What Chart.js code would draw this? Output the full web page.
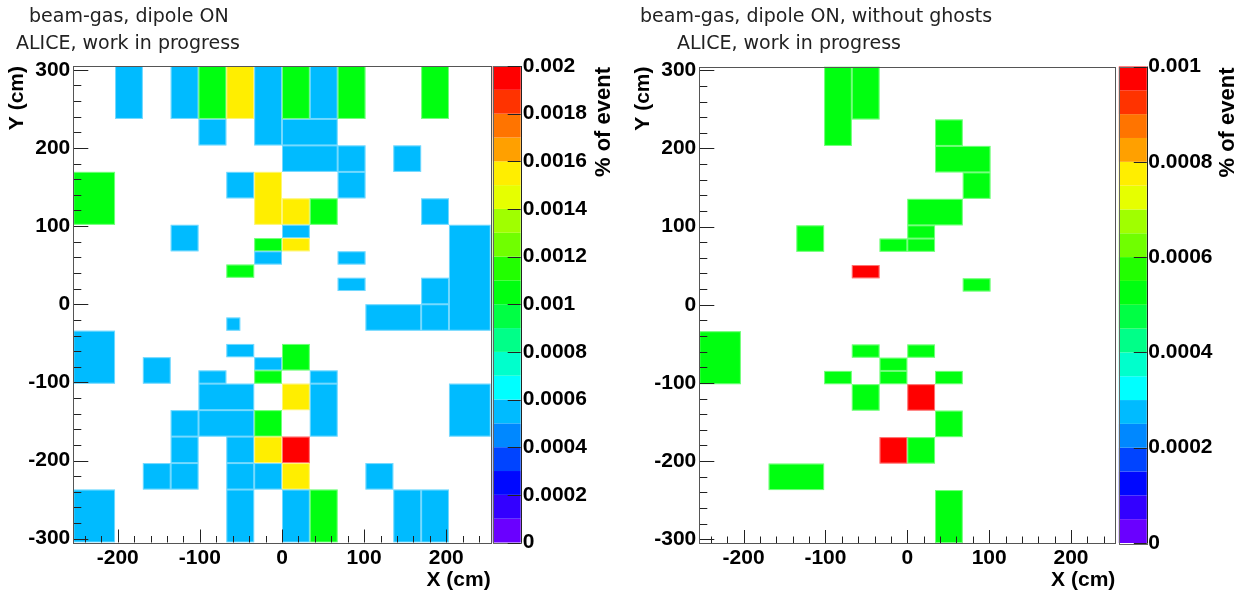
<!DOCTYPE html>
<html>
<head>
<meta charset="utf-8">
<script src="https://cdn.jsdelivr.net/npm/chart.js@4.4.1/dist/chart.umd.min.js"></script>
<style>
  html, body { margin: 0; padding: 0; background: #fff; width: 1242px; height: 596px; overflow: hidden; }
  canvas { position: absolute; top: 0; display: block; }
</style>
</head>
<body>
<canvas id="left" width="621" height="596" style="left:0px"></canvas>
<canvas id="right" width="621" height="596" style="left:621px"></canvas>
<script>
// ---------------- DATA ----------------
const BIN_CM = 16.94;                 // histogram bin width (cm)
const X_BINS = [-15, 15];             // x axis range in bins
const Y_BINS = [-18, 18];             // y axis range in bins

const X_LABELS = [-200, -100, 0, 100, 200];
const Y_LABELS = [-300, -200, -100, 0, 100, 200, 300];
const MINOR_STEP = 20;

// Left panel: beam-gas, dipole ON (cell edges in bin units, value in % of event)
const L_X0 = [-12,-8,-6,-4,-2, 0, 2, 0, 4,10,-6, 0, 4, 8,-15,-4,-2, 4, 0, 2,10,-8, 0,-2, 0,-2, 4,-4, 4,10,12, 6,10,-4,-15,-4, 0,-2,-10,-6,-2, 2,-6, 0, 2,12,-8,-6,-2,-8,-4,-2, 0,-10,-8,-4,-2, 0, 6,-15,-4, 0, 2, 8,10];
const L_X1 = [-10,-6,-4,-2, 0, 2, 4, 4, 6,12,-4, 4, 6,10,-12,-2, 0, 6, 2, 4,12,-6, 2, 0, 2, 0, 6,-2, 6,12,15,10,12,-3,-12,-2, 2, 0, -8,-4, 0, 4,-2, 2, 4,15,-6,-2, 0,-6,-2, 0, 2, -8,-6,-2, 0, 2, 8,-12,-2, 2, 4,10,12];
const L_Y0 = [14,14,14,14,12,14,14,12,14,14,12,10,10,10, 6, 8, 6, 8, 6, 6, 6, 4, 5, 4, 4, 3, 3, 2, 1, 0,-2,-2,-2,-2, -6,-4,-5,-5, -6,-6,-6,-6,-8,-8,-10,-10,-10,-10,-10,-12,-12,-12,-12,-14,-14,-14,-14,-14,-14,-18,-18,-18,-18,-18,-18];
const L_Y1 = [18,18,18,18,18,18,18,14,18,18,14,12,12,12,10,10,10,10, 8, 8, 8, 6, 6, 5, 5, 4, 4, 3, 2, 2, 6, 0, 0,-1, -2,-3,-3,-4, -4,-5,-5,-5,-6,-6, -6, -6, -8, -8, -8,-10,-10,-10,-10,-12,-12,-12,-12,-12,-12,-14,-14,-14,-14,-14,-14];
const L_VAL = [
  0.00053,0.00053,0.00105,0.00158,0.00053,0.00105,0.00053,0.00053,0.00105,0.00105,
  0.00053,0.00053,0.00053,0.00053,0.00105,0.00053,0.00158,0.00053,0.00158,0.00105,
  0.00053,0.00053,0.00053,0.00105,0.00158,0.00053,0.00053,0.00105,0.00053,0.00053,
  0.00053,0.00053,0.00053,0.00053,0.00053,0.00053,0.00105,0.00053,0.00053,0.00053,
  0.00105,0.00053,0.00053,0.00158,0.00053,0.00053,0.00053,0.00053,0.00105,0.00053,
  0.00053,0.00158,0.0021, 0.00053,0.00053,0.00053,0.00053,0.00158,0.00053,0.00053,
  0.00053,0.00053,0.00105,0.00053,0.00053];
const L_CB_TICKS = [0, 0.0002, 0.0004, 0.0006, 0.0008, 0.001, 0.0012, 0.0014, 0.0016, 0.0018, 0.002];
const L_MAX = 0.002;
const L_TITLE = ['beam-gas, dipole ON', 'ALICE, work in progress'];

// Right panel: beam-gas, dipole ON, without ghosts
const R_X0 = [-6,-4, 2, 2, 4, 0, 0,-8,-2, 0,-4, 4,-15,-4, 0,-2,-6,-2, 2,-4, 0,  2, -2,  0,-10,  2];
const R_X1 = [-4,-2, 4, 6, 6, 4, 2,-6, 0, 2,-2, 6,-12,-2, 2, 0,-4, 0, 4,-2, 2,  4,  0,  2, -6,  4];
const R_Y0 = [12,14,12,10, 8, 6, 5, 4, 4, 4, 2, 1, -6,-4,-4,-5,-6,-6,-6,-8,-8,-10,-12,-12,-14,-18];
const R_Y1 = [18,18,14,12,10, 8, 6, 6, 5, 5, 3, 2, -2,-3,-3,-4,-5,-5,-5,-6,-6, -8,-10,-10,-12,-14];
const R_VAL = [
  0.00053,0.00053,0.00053,0.00053,0.00053,0.00053,0.00053,0.00053,0.00053,0.00053,
  0.00105,0.00053,0.00053,0.00053,0.00053,0.00053,0.00053,0.00053,0.00053,0.00053,
  0.00105,0.00053,0.00105,0.00053,0.00053,0.00053];
const R_CB_TICKS = [0, 0.0002, 0.0004, 0.0006, 0.0008, 0.001];
const R_MAX = 0.001;
const R_TITLE = ['beam-gas, dipole ON, without ghosts', 'ALICE, work in progress'];

// ---------------- STYLE ----------------
const PALETTE = ['#6a00ff','#3300ff','#0008ff','#0044ff','#0088ff','#00bbff','#00ffff','#00ffcc','#00ff88','#00ff44',
                 '#00ff10','#22ff00','#70ff00','#a0ff00','#e6ff00','#ffee00','#ffa000','#ff7400','#ff3300','#ff0000'];
const FAMILY = "'Liberation Sans', Arial, Helvetica, sans-serif";
const BOLD = { family: FAMILY, size: 21, weight: 'bold' };

function levelColor(v, vmax) {
  const k = Math.max(0, Math.min(PALETTE.length - 1, Math.floor(v / vmax * PALETTE.length)));
  return PALETTE[k];
}

const histPlugin = {
  id: 'hist2d',
  beforeDatasetsDraw(chart, args, o) {
    const { ctx, chartArea: a, scales: { x, y } } = chart;
    ctx.save();
    ctx.beginPath();
    ctx.rect(a.left, a.top, a.right - a.left, a.bottom - a.top);
    ctx.clip();
    ctx.lineWidth = 1;
    ctx.strokeStyle = 'rgba(255,255,255,0.45)';
    for (const c of chart.data.datasets[0].data) {
      const xa = x.getPixelForValue(c.x0), xb = x.getPixelForValue(c.x1);
      const ya = y.getPixelForValue(c.y1), yb = y.getPixelForValue(c.y0);
      ctx.fillStyle = levelColor(c.v, o.vmax);
      ctx.fillRect(xa, ya, xb - xa, yb - ya);
      ctx.strokeRect(xa + 0.5, ya + 0.5, xb - xa - 1, yb - ya - 1);
    }
    ctx.restore();
  },
  afterDraw(chart, args, o) {
    const { ctx, chartArea: a, scales: { x, y, cb } } = chart;
    const L = o.layout;
    ctx.save();
    // ticks inside the frame
    ctx.strokeStyle = '#222';
    ctx.lineWidth = 1;
    ctx.beginPath();
    for (const t of x.ticks) {
      const px = Math.round(x.getPixelForValue(t.value)) + 0.5;
      const len = X_LABELS.includes(t.value) ? 13 : 6.5;
      ctx.moveTo(px, a.bottom);
      ctx.lineTo(px, a.bottom - len);
    }
    for (const t of y.ticks) {
      const py = Math.round(y.getPixelForValue(t.value)) + 0.5;
      const len = Y_LABELS.includes(t.value) ? 15 : 8;
      ctx.moveTo(a.left, py);
      ctx.lineTo(a.left + len, py);
    }
    ctx.stroke();
    // frame
    ctx.strokeStyle = '#555';
    ctx.strokeRect(Math.round(a.left) + 0.5, Math.round(a.top) + 0.5,
                   Math.round(a.right) - Math.round(a.left), Math.round(a.bottom) - Math.round(a.top));
    // colour bar
    const bx0 = a.right + L.cbGap, bx1 = bx0 + L.cbWidth;
    const n = PALETTE.length;
    for (let k = 0; k < n; k++) {
      const yt = cb.getPixelForValue((k + 1) * o.vmax / n);
      const ybm = cb.getPixelForValue(k * o.vmax / n);
      ctx.fillStyle = PALETTE[k];
      ctx.fillRect(bx0, yt, bx1 - bx0, ybm - yt);
    }
    ctx.strokeStyle = '#666';
    ctx.strokeRect(Math.round(bx0) + 0.5, Math.round(a.top) + 0.5, Math.round(bx1 - bx0), Math.round(a.bottom - a.top));
    ctx.strokeStyle = '#222';
    ctx.beginPath();
    ctx.moveTo(Math.round(bx1) + 0.5, a.top); ctx.lineTo(Math.round(bx1) + 0.5, a.bottom);
    for (const t of cb.ticks) {
      const py = Math.round(cb.getPixelForValue(t.value)) + 0.5;
      ctx.moveTo(bx1, py); ctx.lineTo(bx1 - 13, py);
    }
    ctx.stroke();
    // colour bar title
    ctx.save();
    ctx.translate(a.right + L.cbTitleDx, a.top + 1);
    ctx.rotate(-Math.PI / 2);
    ctx.font = `bold 22px ${FAMILY}`;
    ctx.fillStyle = '#000';
    ctx.textAlign = 'right';
    ctx.textBaseline = 'middle';
    ctx.fillText(o.zTitle, 0, 0);
    ctx.restore();
    // header text
    ctx.font = `19px 'DejaVu Sans', sans-serif`;
    ctx.fillStyle = '#222';
    ctx.textAlign = 'left';
    ctx.textBaseline = 'alphabetic';
    o.title.forEach((s, i) => ctx.fillText(s, L.titleX[i], L.titleY[i]));
    ctx.restore();
  }
};

function buildCells(x0, x1, y0, y1, val) {
  return x0.map((_, i) => ({
    x: (x0[i] + x1[i]) / 2 * BIN_CM, y: (y0[i] + y1[i]) / 2 * BIN_CM,
    x0: x0[i] * BIN_CM, x1: x1[i] * BIN_CM, y0: y0[i] * BIN_CM, y1: y1[i] * BIN_CM, v: val[i]
  }));
}

function minorTicks(lo, hi) {
  const out = [];
  for (let v = Math.ceil(lo / MINOR_STEP) * MINOR_STEP; v <= hi; v += MINOR_STEP) out.push({ value: v });
  return out;
}

function makeChart(id, cells, vmax, cbTicks, title, L) {
  const W = 621, H = 596;
  const xMin = X_BINS[0] * BIN_CM, xMax = X_BINS[1] * BIN_CM;
  const yMin = Y_BINS[0] * BIN_CM, yMax = Y_BINS[1] * BIN_CM;
  return new Chart(document.getElementById(id), {
    type: 'scatter',
    data: { datasets: [{ data: cells, pointRadius: 0, pointHoverRadius: 0, showLine: false }] },
    options: {
      responsive: false,
      animation: false,
      events: [],
      layout: { padding: { top: L.top, left: 0, right: 0, bottom: 0 } },
      plugins: {
        legend: { display: false },
        tooltip: { enabled: false },
        hist2d: { vmax, title, zTitle: '% of event', layout: L }
      },
      scales: {
        x: {
          type: 'linear', position: 'bottom', min: xMin, max: xMax,
          afterBuildTicks: s => { s.ticks = minorTicks(xMin, xMax); },
          afterFit: s => { s.height = H - L.bottom; },
          grid: { display: false, drawTicks: false },
          border: { display: false },
          ticks: {
            autoSkip: false, maxRotation: 0, padding: L.xLabelPad, color: '#000', font: BOLD,
            callback: v => X_LABELS.includes(v) ? String(v) : ''
          },
          title: { display: true, text: 'X (cm)', align: 'end', color: '#000', font: BOLD,
                   padding: { top: 0, bottom: L.xTitlePad } }
        },
        y: {
          type: 'linear', position: 'left', min: yMin, max: yMax,
          afterBuildTicks: s => { s.ticks = minorTicks(yMin, yMax); },
          afterFit: s => { s.width = L.left; },
          grid: { display: false, drawTicks: false },
          border: { display: false },
          ticks: {
            autoSkip: false, padding: L.yLabelPad, color: '#000', font: BOLD,
            callback: v => Y_LABELS.includes(v) ? String(v) : ''
          },
          title: { display: true, text: 'Y (cm)', align: 'end', color: '#000', font: BOLD,
                   padding: { top: L.yTitlePad, bottom: 0 } }
        },
        cb: {
          type: 'linear', position: 'right', axis: 'y', min: 0, max: vmax,
          afterBuildTicks: s => { s.ticks = cbTicks.map(v => ({ value: v })); },
          afterFit: s => { s.width = W - L.right; },
          grid: { display: false, drawTicks: false },
          border: { display: false },
          ticks: { autoSkip: false, padding: L.cbLabelPad, color: '#000', font: BOLD,
                   callback: v => String(v) }
        }
      }
    },
    plugins: [histPlugin]
  });
}

makeChart('left', buildCells(L_X0, L_X1, L_Y0, L_Y1, L_VAL), L_MAX, L_CB_TICKS, L_TITLE, {
  left: 73.3, right: 490.7, top: 66, bottom: 542.5,
  xLabelPad: 3, xTitlePad: 3, yLabelPad: 3, yTitlePad: 5,
  cbGap: 2, cbWidth: 28, cbLabelPad: 32, cbTitleDx: 113,
  titleX: [29, 16], titleY: [22, 49]
});
makeChart('right', buildCells(R_X0, R_X1, R_Y0, R_Y1, R_VAL), R_MAX, R_CB_TICKS, R_TITLE, {
  left: 78.3, right: 494.3, top: 66.5, bottom: 543,
  xLabelPad: 3, xTitlePad: 3, yLabelPad: 3, yTitlePad: 10,
  cbGap: 3.5, cbWidth: 28, cbLabelPad: 33, cbTitleDx: 113,
  titleX: [19, 56], titleY: [22, 49]
});
</script>
</body>
</html>
